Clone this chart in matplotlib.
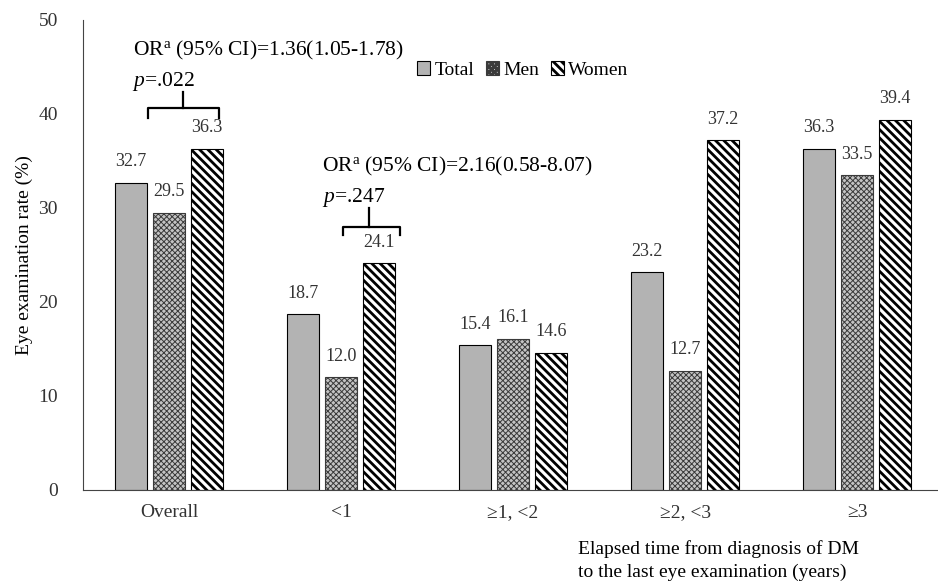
import matplotlib
matplotlib.use("Agg")
import matplotlib.pyplot as plt
import numpy as np

plt.rcParams['font.family'] = ['Liberation Serif', 'DejaVu Serif']
plt.rcParams['mathtext.fontset'] = 'custom'
plt.rcParams['mathtext.rm'] = 'Liberation Serif'
plt.rcParams['mathtext.it'] = 'Liberation Serif:italic'

categories = ["Overall", "<1", "≥1, <2", "≥2, <3", "≥3"]
total = [32.7, 18.7, 15.4, 23.2, 36.3]
men = [29.5, 12.0, 16.1, 12.7, 33.5]
women = [36.3, 24.1, 14.6, 37.2, 39.4]

fig = plt.figure(figsize=(9.38, 5.86), dpi=100)
ax = fig.add_axes([0.0885, 0.164, 0.9115, 0.802])

x = np.arange(len(categories))
w = 0.185
off = 0.22

b1 = ax.bar(x - off, total, w, color="#b3b3b3", edgecolor="black", linewidth=0.8, label="Total")
plt.rcParams['hatch.linewidth'] = 0.7
b2 = ax.bar(x, men, w, color="#c4c4c4", edgecolor="#3a3a3a", linewidth=0.8,
            hatch="xxxxxx", label="Men")
plt.rcParams['hatch.linewidth'] = 2.0
b3 = ax.bar(x + off, women, w, color="white", edgecolor="black", linewidth=0.8,
            hatch="\\\\\\\\", label="Women")

for bars, vals in [(b1, total), (b2, men), (b3, women)]:
    for r, v in zip(bars, vals):
        ax.text(r.get_x() + r.get_width() / 2, v + 1.3, f"{v:.1f}",
                ha="center", va="bottom", fontsize=13, color="#333333")

ax.set_ylim(0, 50)
ax.set_xlim(-0.5, 4.47)
ax.set_yticks([0, 10, 20, 30, 40, 50])
ax.set_xticks(x)
ax.set_xticklabels(categories)
ax.tick_params(length=0, labelsize=14, colors="#333333", pad=10)
ax.tick_params(axis="y", pad=18)
for s in ["top", "right"]:
    ax.spines[s].set_visible(False)
ax.spines["left"].set_color("#444444")
ax.spines["bottom"].set_color("#444444")

ax.set_ylabel("Eye examination rate (%)", fontsize=14, labelpad=4)

# odds ratio annotations with brackets
ax.text(-0.21, 46.8, r"OR$^{\mathrm{a}}$ (95% CI)=1.36(1.05-1.78)", fontsize=15.5, ha="left", va="center")
ax.text(-0.215, 43.4, r"$p$=.022", fontsize=15.5, ha="left", va="center")
ax.plot([-0.12, -0.12, 0.29, 0.29], [39.6, 40.6, 40.6, 39.6], color="black", lw=1.6)
ax.plot([0.08, 0.08], [40.6, 42.3], color="black", lw=1.6)

ax.text(0.89, 34.4, r"OR$^{\mathrm{a}}$ (95% CI)=2.16(0.58-8.07)", fontsize=15.5, ha="left", va="center")
ax.text(0.89, 31.1, r"$p$=.247", fontsize=15.5, ha="left", va="center")
ax.plot([1.01, 1.01, 1.34, 1.34], [27.1, 28.0, 28.0, 27.1], color="black", lw=1.6)
ax.plot([1.16, 1.16], [28.0, 30.0], color="black", lw=1.6)

ax.legend(loc="upper left", bbox_to_anchor=(0.37, 0.95), ncol=3, frameon=False,
          fontsize=14, handlelength=0.7, handleheight=0.7, handletextpad=0.2,
          columnspacing=0.6)

fig.text(0.616, 0.008, "Elapsed time from diagnosis of DM\nto the last eye examination (years)",
         fontsize=14, ha="left", va="bottom", linespacing=1.45)

fig.savefig("out.png", dpi=100)
